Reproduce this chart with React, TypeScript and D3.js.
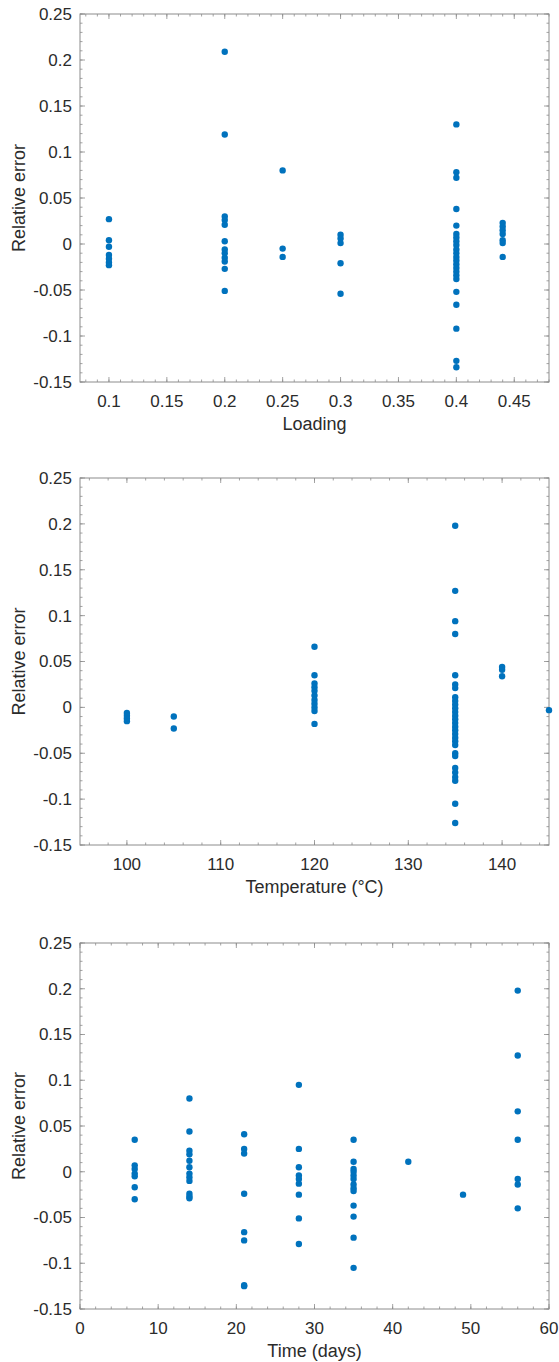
import React from "react";
import * as d3 from "d3";

// ---------- data ----------
const loadingX = [0.1, 0.2, 0.25, 0.3, 0.4, 0.44];
const loadingY: number[][] = [
  [0.027, 0.004, -0.003, -0.012, -0.016, -0.02, -0.023],
  [0.209, 0.119, 0.03, 0.026, 0.021, 0.003, -0.006, -0.01, -0.015, -0.019, -0.027, -0.051],
  [0.08, -0.005, -0.014],
  [0.01, 0.006, 0.001, -0.021, -0.054],
  [0.13, 0.078, 0.072, 0.038, 0.02, 0.011, 0.007, 0.003, -0.001, -0.006, -0.01, -0.014, -0.018, -0.022, -0.026, -0.03, -0.034, -0.038, -0.052, -0.066, -0.092, -0.127, -0.134],
  [0.023, 0.019, 0.015, 0.011, 0.004, 0.001, -0.014],
];

const tempX = [100, 105, 120, 135, 140, 145];
const tempY: number[][] = [
  [-0.006, -0.009, -0.012, -0.015],
  [-0.01, -0.023],
  [0.066, 0.035, 0.026, 0.022, 0.018, 0.013, 0.008, 0.004, 0.0, -0.004, -0.018],
  [0.198, 0.127, 0.094, 0.08, 0.035, 0.025, 0.021, 0.011, 0.007, 0.003, -0.001, -0.005, -0.009, -0.013, -0.017, -0.021, -0.025, -0.029, -0.033, -0.037, -0.041, -0.05, -0.053, -0.066, -0.071, -0.076, -0.08, -0.105, -0.126],
  [0.044, 0.041, 0.034],
  [-0.003],
];

const timeX = [7, 14, 21, 28, 35, 42, 49, 56];
const timeY: number[][] = [
  [0.035, 0.007, 0.003, -0.002, -0.005, -0.017, -0.03],
  [0.08, 0.044, 0.023, 0.019, 0.012, 0.005, -0.002, -0.006, -0.01, -0.024, -0.027, -0.029],
  [0.041, 0.025, 0.02, -0.024, -0.066, -0.075, -0.124, -0.125],
  [0.095, 0.025, 0.005, -0.004, -0.008, -0.013, -0.025, -0.051, -0.079],
  [0.035, 0.011, 0.003, 0.0, -0.004, -0.008, -0.014, -0.018, -0.021, -0.037, -0.049, -0.072, -0.105],
  [0.011],
  [-0.025],
  [0.198, 0.127, 0.066, 0.035, -0.008, -0.014, -0.04],
];

const yTicks = [-0.15, -0.1, -0.05, 0, 0.05, 0.1, 0.15, 0.2, 0.25];
const loadingTicks = [0.1, 0.15, 0.2, 0.25, 0.3, 0.35, 0.4, 0.45];
const tempTicks = [100, 110, 120, 130, 140];
const timeTicks = [0, 10, 20, 30, 40, 50, 60];

const yLabel = "Relative error";

// ---------- styling ----------
const W = 559;
const H = 1362;
const LEFT = 80;
const RIGHT = 549;
const DOT = "#0072BD";
const AXIS = "#8c8c8c";
const TEXT = "#2b2b2b";
const FONT = "'Liberation Sans', Arial, Helvetica, sans-serif";

type PanelProps = {
  top: number;
  bottom: number;
  xDomain: [number, number];
  xTicks: number[];
  xMinorStep: number;
  xs: number[];
  ys: number[][];
  xLabel: string;
};

function range(a: number, b: number, step: number) {
  const out: number[] = [];
  const n = Math.round((b - a) / step);
  for (let i = 0; i <= n; i++) out.push(+(a + i * step).toFixed(6));
  return out;
}

function fmt(v: number) {
  return String(+v.toFixed(2));
}

function Panel({ top, bottom, xDomain, xTicks, xMinorStep, xs, ys, xLabel }: PanelProps) {
  const x = d3.scaleLinear().domain(xDomain).range([LEFT, RIGHT]);
  const y = d3.scaleLinear().domain([-0.15, 0.25]).range([bottom, top]);
  const start = Math.ceil(xDomain[0] / xMinorStep) * xMinorStep;
  const xMinor = range(start, xDomain[1], xMinorStep).filter(
    (v) => v >= xDomain[0] - 1e-9 && v <= xDomain[1] + 1e-9
  );
  const yMinor = range(-0.15, 0.25, 0.01);
  const maj = 5;
  const mnr = 2.5;
  const pts: { cx: number; cy: number }[] = [];
  xs.forEach((xv, i) => ys[i].forEach((yv) => pts.push({ cx: x(xv), cy: y(yv) })));
  const midY = (top + bottom) / 2;
  return (
    <g>
      {/* minor ticks */}
      {xMinor.map((v, i) => (
        <g key={"xm" + i} stroke={AXIS} strokeWidth={0.8}>
          <line x1={x(v)} x2={x(v)} y1={bottom} y2={bottom - mnr} />
          <line x1={x(v)} x2={x(v)} y1={top} y2={top + mnr} />
        </g>
      ))}
      {yMinor.map((v, i) => (
        <g key={"ym" + i} stroke={AXIS} strokeWidth={0.8}>
          <line x1={LEFT} x2={LEFT + mnr} y1={y(v)} y2={y(v)} />
          <line x1={RIGHT} x2={RIGHT - mnr} y1={y(v)} y2={y(v)} />
        </g>
      ))}
      {/* major ticks */}
      {xTicks.map((v, i) => (
        <g key={"xt" + i} stroke={AXIS} strokeWidth={0.8}>
          <line x1={x(v)} x2={x(v)} y1={bottom} y2={bottom - maj} />
          <line x1={x(v)} x2={x(v)} y1={top} y2={top + maj} />
        </g>
      ))}
      {yTicks.map((v, i) => (
        <g key={"yt" + i} stroke={AXIS} strokeWidth={0.8}>
          <line x1={LEFT} x2={LEFT + maj} y1={y(v)} y2={y(v)} />
          <line x1={RIGHT} x2={RIGHT - maj} y1={y(v)} y2={y(v)} />
        </g>
      ))}
      <rect x={LEFT} y={top} width={RIGHT - LEFT} height={bottom - top} fill="none" stroke={AXIS} strokeWidth={1} />
      {/* data */}
      {pts.map((p, i) => (
        <circle key={"p" + i} cx={p.cx} cy={p.cy} r={3.2} fill={DOT} />
      ))}
      {/* tick labels */}
      {yTicks.map((v, i) => (
        <text key={"yl" + i} x={LEFT - 8} y={y(v)} dy="0.35em" textAnchor="end" fontSize={17} fill={TEXT} fontFamily={FONT}>
          {fmt(v)}
        </text>
      ))}
      {xTicks.map((v, i) => (
        <text key={"xl" + i} x={x(v)} y={bottom + 19} dy="0.35em" textAnchor="middle" fontSize={17} fill={TEXT} fontFamily={FONT}>
          {fmt(v)}
        </text>
      ))}
      <text x={(LEFT + RIGHT) / 2} y={bottom + 42} dy="0.35em" textAnchor="middle" fontSize={18} fill={TEXT} fontFamily={FONT}>
        {xLabel}
      </text>
      <text
        transform={`translate(19,${midY}) rotate(-90)`}
        dy="0.35em"
        textAnchor="middle"
        fontSize={18}
        fill={TEXT}
        fontFamily={FONT}
      >
        {yLabel}
      </text>
    </g>
  );
}

export default function App() {
  return (
    <svg
      width={W}
      height={H}
      viewBox={`0 0 ${W} ${H}`}
      style={{ position: "absolute", left: 0, top: 0, background: "#fff" }}
    >
      <rect x={0} y={0} width={W} height={H} fill="#fff" />
      <Panel top={14} bottom={382} xDomain={[0.075, 0.48]} xTicks={loadingTicks} xMinorStep={0.01} xs={loadingX} ys={loadingY} xLabel="Loading" />
      <Panel top={478} bottom={845} xDomain={[95, 145]} xTicks={tempTicks} xMinorStep={2} xs={tempX} ys={tempY} xLabel="Temperature (°C)" />
      <Panel top={943} bottom={1309} xDomain={[0, 60]} xTicks={timeTicks} xMinorStep={2} xs={timeX} ys={timeY} xLabel="Time (days)" />
    </svg>
  );
}
